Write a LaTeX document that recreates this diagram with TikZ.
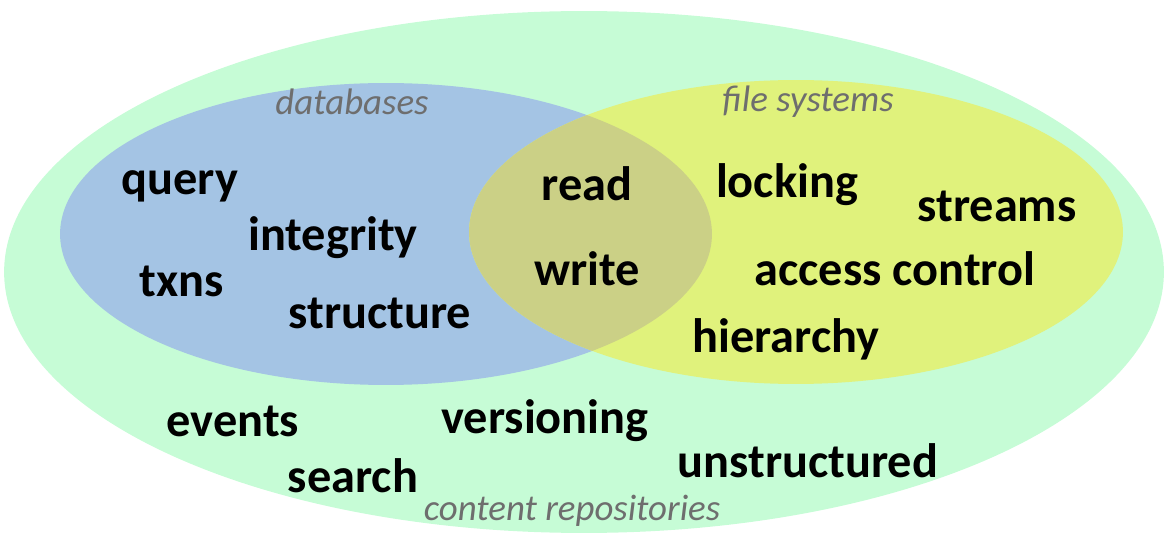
\documentclass[tikz,border=0pt]{standalone}
\usepackage{fontspec}
\setmainfont{Carlito}
\usetikzlibrary{shapes, positioning}
\definecolor{MyMint}{HTML}{C6FCD6}
\definecolor{MyBlue}{HTML}{A4C4E4}
\definecolor{MyYellow}{HTML}{E0F27C}
\definecolor{MyOlive}{HTML}{CBD086}
\definecolor{MyGray}{HTML}{6E6E6E}

\begin{document}
\begin{tikzpicture} [
			x=0.02cm, y=-0.02cm,
			word/.style={font=\fontsize{27.5}{32}\selectfont\bfseries, inner sep=0pt},
			setname/.style={font=\fontsize{21}{25}\selectfont\itshape, text=MyGray, inner sep=0pt}
		]
			\useasboundingbox (0,0) rectangle (1165,536);
			\fill[MyMint] (584,272) ellipse [x radius=11.6cm, y radius=5.22cm];
			\fill[MyBlue] (386,234) ellipse [x radius=6.52cm, y radius=3.02cm];
			\fill[MyYellow] (796,232) ellipse [x radius=6.54cm, y radius=3.04cm];
			\begin{scope}
				\clip (386,234) ellipse [x radius=6.52cm, y radius=3.02cm];
				\fill[MyOlive] (796,232) ellipse [x radius=6.54cm, y radius=3.04cm];
			\end{scope}
			\node at (352,102) [setname] (dbname) {databases};
			\node at (808,102) [setname] (fsname) {file systems};
			\node at (572,511) [setname] (crname) {content repositories};
			\node at (180,186) [word] (query) {query};
			\node at (333,238) [word] (integrity) {integrity};
			\node at (182,281) [word] (txns) {txns};
			\node at (380,313) [word] (structure) {structure};
			\node at (587,184) [word] (read) {read};
			\node at (587,269) [word] (write) {write};
			\node at (787,185) [word] (locking) {locking};
			\node at (997,206) [word] (streams) {streams};
			\node at (895,269) [word] (access) {access control};
			\node at (786,339) [word] (hierarchy) {hierarchy};
			\node at (233,421) [word] (events) {events};
			\node at (545,421) [word] (versioning) {versioning};
			\node at (353,476) [word] (search) {search};
			\node at (808,461) [word] (unstructured) {unstructured};
		\end{tikzpicture}
\end{document}
